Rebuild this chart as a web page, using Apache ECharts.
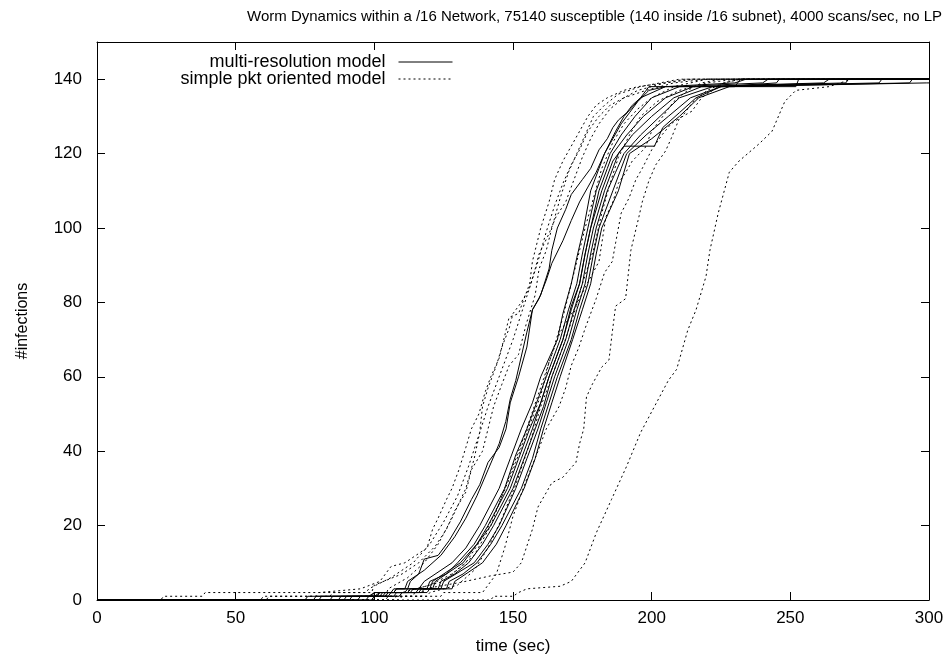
<!DOCTYPE html>
<html>
<head>
<meta charset="utf-8">
<script src="https://cdn.jsdelivr.net/npm/echarts@6/dist/echarts.min.js"></script>
<style>html,body{margin:0;padding:0;background:#fff}#c{width:951px;height:660px}</style>
</head>
<body>
<div id="c"></div>
<script>
const titleText = 'Worm Dynamics within a /16 Network, 75140 susceptible (140 inside /16 subnet), 4000 scans/sec, no LP';
const xName = 'time (sec)';
const yName = '#infections';
const solidName = 'multi-resolution model';
const dottedName = 'simple pkt oriented model';
const xTicks = [0, 50, 100, 150, 200, 250, 300];
const yTicks = [0, 20, 40, 60, 80, 100, 120, 140];

// multi-resolution model runs: [time, infections]
const mr1 = [[0,0],[75,0],[76,1],[100,1],[102,2],[106,2],[107,3],[112,3],[113,5],[116,7],[118,11],[123,12],[127,16],[131,21],[135,27],[138,31],[141,37],[145,41],[147.5,46],[149,53],[152,60],[155,68],[157,78],[160,82],[163,89],[164,94],[166,100],[169,105],[171,109],[175,113],[178,116],[181,121],[184,124],[186,127],[188,129],[191,131],[193,133],[196,135],[198,137],[199,138],[230,138],[232,140],[300,140]];
const mr2 = [[0,0],[78,0],[79,1],[98,1],[100,2],[107,2],[108,3],[111,3],[112,5],[118,8],[124,12],[129,17],[133,22],[137,28],[141,35],[145,42],[147.4,48],[149,54],[151,59],[155,72],[157,78],[159.4,81],[162,86],[164,90.5],[168,96.6],[171,102],[174,107],[177,111],[180,115],[183,120],[186,124],[189,128],[192,131],[195,134],[199,137],[205,138],[252,138],[253,140],[300,140]];
const mr3 = [[0,0],[80,0],[81,1],[99,1],[100,2],[107,2],[108,3],[116,3],[118,5],[128,10],[133,14],[138,20],[145,30],[149,38],[153,46],[157,53],[160,60],[166,70],[168,77],[171,85],[173,92],[175.5,100],[178,110],[181,116],[183,120],[187,126],[190,130],[196,135],[205,138],[230,139],[234,140],[300,140]];
const mr4 = [[0,0],[84,0],[85,1],[101,1],[102,2],[111,2],[112,3],[119,3],[120,5],[126,7],[130,10],[136,15],[140,20],[147,30],[151,39],[155,46],[159,54],[162,60],[167,70],[170,78],[173,85],[175,93],[177,100],[180,110],[183,116],[185,120],[189,125],[194,130],[200,135],[210,138],[240,139],[242,140],[300,140]];
const mr5 = [[0,0],[89,0],[90,1],[103,1],[104,2],[113,2],[114,3],[121,3],[122,5],[132,10],[137,15],[141,20],[148,30],[152,38],[156,46],[160,53],[163,60],[168,70],[171,79],[174,85],[176,93],[178,100],[181,110],[184,116],[186,120],[191,125],[197,130],[205,135],[215,138],[262,139],[264,140],[300,140]];
const mr6 = [[0,0],[91,0],[92,1],[104,1],[105,2],[115,2],[116,3],[123,3],[124,5],[129,7],[134,10],[139,15],[143,20],[150,30],[154,38],[158,46],[161,52],[164,60],[169,70],[172,78],[175,85],[177,93],[179,100],[183,110],[186,116],[188,120],[193,125],[200,130],[208,135],[218,138],[270,139],[271,140],[300,140]];
const mr7 = [[0,0],[94,0],[95,1],[105,1],[106,2],[116,2],[117,3],[124,3],[125,5],[136,10],[141,15],[145,20],[151,30],[155,38],[159,46],[162,53],[165,60],[170,70],[173,78],[176,85],[178,93],[180,100],[184,110],[187,115],[190,120],[196,125],[203,130],[210,135],[222,138],[282,139],[283,140],[300,140]];
const mr8 = [[0,0],[97,0],[98,1],[107,1],[108,2],[117,2],[118,3],[126,3],[127,5],[132,7],[137,10],[142,15],[146,20],[153,30],[157,38],[160,46],[163,53],[166,60],[171,70],[174,78],[177,85],[179,93],[181,100],[186,110],[189,116],[191,120],[198,125],[206,130],[214,135],[225,138],[293,139],[294,140],[300,140]];
const mr9 = [[0,0],[99,0],[100,1],[109,1],[110,2],[119,2],[120,3],[128,3],[129,5],[139,10],[144,15],[147.5,20],[154,30],[158,38],[161,46],[164,53],[167,60],[171.5,70],[175,78],[178,85],[180,93],[182,100],[188,110],[190,115],[192,120],[200,124],[210,130],[217,135],[228,138],[299,139],[300,139]];
const mr10 = [[0,0],[87,0],[88,1],[102,1],[103,2],[112,2],[113,3],[120,3],[121,5],[131,10],[137,15],[142,20],[149,30],[153,38],[157,46],[160,53],[163,60],[168,70],[171,78],[174,85],[176,93],[178,100],[182,110],[186,118],[190,122],[201,122],[204,127],[210,131],[216,135],[225,138],[245,139],[246,140],[300,140]];

// simple pkt oriented model runs: [time, infections]
const sp1 = [[0,0],[23,0],[24,1],[38,1],[39,2],[80,2],[95,3],[102,5],[106,9],[111,10],[119,14],[121,19],[123,22],[126,27],[128,30],[130.5,35],[133,41],[135,46],[137.7,50],[140,56],[142,60],[145,65],[147,71],[148.6,76],[152,77],[156,85],[157,91],[158,94],[160,100],[163,107],[165,113],[168,118],[171,122],[174,126],[177,130],[180,133],[184,135],[190,137],[195,138],[205,139],[215,140],[300,140]];
const sp2 = [[0,0],[61,0],[62,1],[84,1],[85,2],[99,2],[100,4],[110,7],[116,10],[122,14.5],[126,19],[129,24],[133,29],[135,35],[139,40],[141,46],[143,52],[146,58],[148.6,63],[152,66],[154.7,74],[158,82],[159.4,89],[162,94],[164,100],[167,108],[170,115],[173,120],[176,125],[179,130],[183,133],[188,136],[196,138],[210,140],[300,140]];
const sp3 = [[0,0],[94,0],[95,1],[104,1],[105,3],[112,6],[118,10],[123,15],[128,22],[133,30],[136,38],[138,45],[139,52],[141,57],[144,63],[146,68],[148.6,73],[150,77],[153,80],[156,84],[158,89],[159.4,93],[163,98.5],[165.5,103],[169,107],[172,113],[175,119],[178,124],[181,128],[185,132],[190,135],[198,137],[208,139],[220,140],[300,140]];
const sp4 = [[0,0],[109,0],[110,1],[124,1],[125,2],[139,2],[140,3],[144,7],[147,14],[150,22.5],[154.7,32],[159,40],[162,46],[166.6,52],[169,57],[171,63],[173.8,68],[176,73],[180,81],[183,88],[185.8,91],[187,96],[189,104],[191.8,108],[194.3,113],[196.6,116],[200,121],[203.7,125],[207,128],[211,130],[215,134],[220,137],[226,139],[232,140],[300,140]];
const sp5 = [[0,0],[107,0],[108,1],[117,1],[118,3],[131.6,4.8],[142,6.5],[150,7.5],[153,10],[157,19],[159,25],[164,31.5],[168,33],[172.7,37],[174,42],[175.5,46],[176.5,54.6],[178.6,58],[182,62.6],[184.6,64.5],[185.8,72],[187,79],[190.6,81],[192.5,94],[195.4,103],[196.6,107],[199,112.7],[201.5,117],[205,120.7],[207,124],[210,129.5],[214.5,131.4],[218,135],[222,137],[226,139],[232,140],[300,140]];
const sp6 = [[0,0],[142,0],[143,1],[150,1],[152,2],[155,3],[167,3.7],[171,5],[176,10],[180,18],[185.5,27],[191,36],[196,45],[201,52],[206,59],[209,62],[213,72.5],[216,78],[219.6,87],[221,94],[224,104],[228,115],[231.5,118],[238.7,122.6],[243.4,126],[248,134],[252,137],[264,138],[272,140],[300,140]];
const sp7 = [[0,0],[99,0],[100,1],[114,1],[115,3],[125,5],[133,10],[140,18],[145,26],[150,35],[155,45],[160,55],[163,64],[167,72],[172,78],[176,84],[181,91],[183.5,103],[186,107],[188,112],[190.7,115],[193,118],[197.6,121.5],[200,126],[204,130],[208,134],[213,137],[218,139],[225,140],[300,140]];
const sp8 = [[0,0],[94,0],[95,1],[109,1],[110,2],[120,4],[128,7],[136,12],[142,20],[148,32],[154,44],[159,55],[164,66],[168,76],[172,88],[176,100],[179,108],[182,116],[186,123],[190,128],[195,132],[200,135],[208,138],[220,140],[300,140]];
const sp9 = [[0,0],[59,0],[60,1],[79,1],[80,2],[97,2],[98,3],[106,6],[114,10],[120,15],[125,21],[130,28],[134,36],[138,45],[141,52],[144,58],[147,64],[150,70],[153,77],[156,84],[159,91],[162,99],[165,106],[168,112],[171,117],[174,121],[177,126],[181,130],[185,133],[190,135],[195,137],[205,139],[212,140],[300,140]];
const sp10 = [[0,0],[104,0],[105,1],[119,1],[120,2],[130,4],[136,8],[141,14],[146,22],[151,31],[156,42],[160,52],[164,60],[168,68],[172,77],[175,85],[179,94],[182,104],[185,112],[188,119],[192,125],[196,130],[202,134],[210,137],[220,139],[230,140],[300,140]];

const solidRuns = [mr1, mr2, mr3, mr4, mr5, mr6, mr7, mr8, mr9, mr10];
const dottedRuns = [sp1, sp2, sp3, sp4, sp5, sp6, sp7, sp8, sp9, sp10];

const FONT = 'Liberation Sans, Arial, Helvetica, sans-serif';
const series = [];
solidRuns.forEach(d => series.push({
  name: solidName, type: 'line', data: d, symbol: 'none', showSymbol: false,
  lineStyle: {color: '#000', width: 1, type: 'solid'}, itemStyle: {color: '#000'},
  emphasis: {disabled: true}, z: 3
}));
dottedRuns.forEach(d => series.push({
  name: dottedName, type: 'line', data: d, symbol: 'none', showSymbol: false,
  lineStyle: {color: '#000', width: 1, type: [2, 3]}, itemStyle: {color: '#000'},
  emphasis: {disabled: true}, z: 2
}));

const chart = echarts.init(document.getElementById('c'), null, {renderer: 'canvas'});
function axisCommon() {
  return {
    axisLine: {show: true, onZero: false, lineStyle: {color: '#000', width: 1}},
    axisTick: {show: true, inside: true, length: 8, lineStyle: {color: '#000'}},
    splitLine: {show: false}
  };
}
const legendCommon = {
  right: 498, padding: 0, align: 'right', itemWidth: 54, itemHeight: 14,
  selectedMode: false, itemStyle: {opacity: 0}, lineStyle: {width: 1},
  textStyle: {fontFamily: FONT, fontSize: 18, color: '#000', padding: [0, 8, 0, 0]}
};
chart.setOption({
  animation: false,
  backgroundColor: '#fff',
  title: {
    text: titleText, left: 247, top: 9, padding: 0,
    textStyle: {fontFamily: FONT, fontSize: 15, fontWeight: 'normal', color: '#000'}
  },
  legend: [
    Object.assign({data: [solidName], top: 53}, legendCommon),
    Object.assign({data: [dottedName], top: 70}, legendCommon)
  ],
  grid: {left: 97, right: 22, top: 42, bottom: 59, containLabel: false},
  xAxis: [
    Object.assign({type: 'value', min: xTicks[0], max: xTicks[xTicks.length - 1], interval: 50,
      name: xName, nameLocation: 'middle', nameGap: 38,
      nameTextStyle: {fontFamily: FONT, fontSize: 17, color: '#000'},
      axisLabel: {fontFamily: FONT, fontSize: 17, color: '#000', margin: 10}}, axisCommon()),
    Object.assign({type: 'value', position: 'top', min: xTicks[0], max: xTicks[xTicks.length - 1], interval: 50,
      axisLabel: {show: false}}, axisCommon())
  ],
  yAxis: [
    Object.assign({type: 'value', min: 0, max: 150, interval: 20,
      name: yName, nameLocation: 'middle', nameGap: 66, nameRotate: 90,
      nameTextStyle: {fontFamily: FONT, fontSize: 16, color: '#000'},
      axisLabel: {fontFamily: FONT, fontSize: 17, color: '#000', margin: 15, showMaxLabel: false,
        formatter: v => (yTicks.indexOf(v) >= 0 ? String(v) : '')}}, axisCommon()),
    Object.assign({type: 'value', position: 'right', min: 0, max: 150, interval: 20,
      axisLabel: {show: false}}, axisCommon())
  ],
  series: series
});
</script>
</body>
</html>
